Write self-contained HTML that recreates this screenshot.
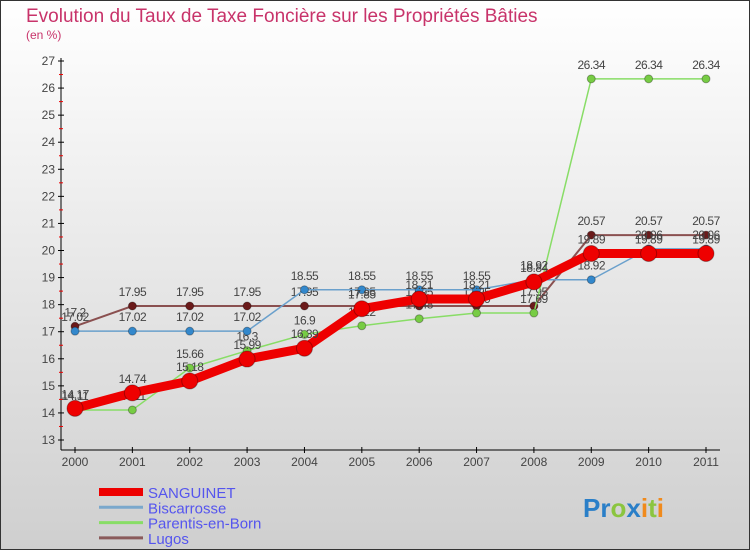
<!DOCTYPE html>
<html><head><meta charset="utf-8"><style>
body{margin:0;width:750px;height:550px;overflow:hidden;font-family:"Liberation Sans","DejaVu Sans",sans-serif}
</style></head><body>
<svg id="c" width="750" height="550" xmlns="http://www.w3.org/2000/svg">
<defs><linearGradient id="bg" x1="0" y1="0" x2="0" y2="1"><stop offset="0" stop-color="#ffffff"/><stop offset="1" stop-color="#cfcfcf"/></linearGradient></defs>
<rect x="0.5" y="0.5" width="749" height="549" fill="url(#bg)" stroke="#333"/>
<text x="26" y="22" font-size="19" fill="#c8336a">Evolution du Taux de Taxe Foncière sur les Propriétés Bâties</text>
<text x="26" y="39" font-size="12" fill="#c8336a">(en %)</text>
<g id="axes"></g><g id="series"></g><g id="legend"></g>
<text x="583" y="517" font-size="26" font-weight="bold"><tspan fill="#2a7fc8">Pr</tspan><tspan fill="#8bc53f">o</tspan><tspan fill="#2a7fc8">x</tspan><tspan fill="#f08a1c">i</tspan><tspan fill="#8bc53f">t</tspan><tspan fill="#f08a1c">i</tspan></text>
</svg>
<script>
const years=[2000,2001,2002,2003,2004,2005,2006,2007,2008,2009,2010,2011];
const yTicks=[13,14,15,16,17,18,19,20,21,22,23,24,25,26,27];
const sanguinet=[14.17,14.74,15.18,15.99,16.39,17.85,18.21,18.21,18.84,19.89,19.89,19.89];
const biscarrosse=[17.02,17.02,17.02,17.02,18.55,18.55,18.55,18.55,18.92,18.92,20.06,20.06];
const parentis=[14.11,14.11,15.66,16.3,16.9,17.22,17.48,17.69,17.69,26.34,26.34,26.34];
const lugos=[17.2,17.95,17.95,17.95,17.95,17.95,17.95,17.95,17.95,20.57,20.57,20.57];
const names=["SANGUINET","Biscarrosse","Parentis-en-Born","Lugos"];
const NS="http://www.w3.org/2000/svg";
const X=i=>75+i*(706-75)/(years.length-1);
const Y=v=>440-(v-13)*(440-61)/14;
function mk(t,a,p){const e=document.createElementNS(NS,t);for(const k in a)e.setAttribute(k,a[k]);p.appendChild(e);return e;}
const ax=document.getElementById('axes');
let l=mk('line',{x1:61,y1:58,x2:61,y2:450,stroke:'#000'},ax);

l=mk('line',{x1:61,y1:450,x2:720,y2:450,stroke:'#000'},ax);

yTicks.forEach(v=>{const y=Y(v);
 mk('line',{x1:58,y1:y,x2:64,y2:y,stroke:'#000'},ax);
 if(v<27)mk('line',{x1:59,y1:Y(v+0.5),x2:63,y2:Y(v+0.5),stroke:'#e00'},ax);
 const t=mk('text',{x:55,y:y+4,'font-size':12,fill:'#444','text-anchor':'end'},ax);t.textContent=v;
 });
years.forEach((yr,i)=>{mk('line',{x1:X(i),y1:447,x2:X(i),y2:453,stroke:'#000'},ax);
 const t=mk('text',{x:X(i),y:466,'font-size':12,fill:'#444','text-anchor':'middle'},ax);t.textContent=yr;
 });
const sg=document.getElementById('series');
function draw(data,col,w,r,dot,name){const g=mk('g',{},sg);
 
 mk('polyline',{points:data.map((v,i)=>X(i)+','+Y(v)).join(' '),fill:'none',stroke:col,'stroke-width':w,'stroke-linejoin':'round'},g);
 data.forEach((v,i)=>{const c=mk('circle',{cx:X(i),cy:Y(v),r:r,fill:dot,stroke:'rgba(0,0,0,0.3)'},g);
  
  const t=mk('text',{x:X(i),y:Y(v)-10,'font-size':12,fill:'#444','text-anchor':'middle','letter-spacing':'-0.5'},g);t.textContent=v;});}
draw(lugos,'#8a5050',2,4,'#6b1a1a','series-lugos');
draw(parentis,'#88dd66',1.5,4,'#77cc44','series-parentis');
draw(biscarrosse,'#6aa0cc',1.5,4,'#3388cc','series-biscarrosse');
draw(sanguinet,'#ee0000',9,8,'#ee0000','series-sanguinet');
const lg=document.getElementById('legend');
const lc=['#ee0000','#7aa8cc','#88dd66','#8a5a5a'],lw=[8,3,3,3];
names.forEach((n,i)=>{const y=492+i*15.3;const g=mk('g',{},lg);
 
 mk('line',{x1:99,y1:y,x2:143,y2:y,stroke:lc[i],'stroke-width':lw[i]},g);
 const t=mk('text',{x:148,y:y+6,'font-size':15,fill:'#5555ee'},g);t.textContent=n;});
</script>
</body></html>
